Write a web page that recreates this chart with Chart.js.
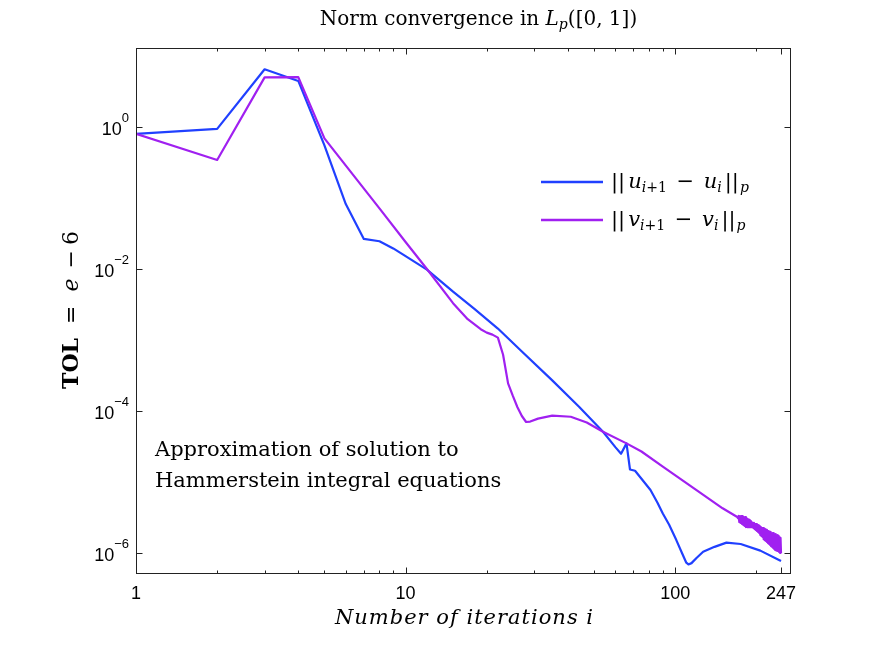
<!DOCTYPE html>
<html>
<head>
<meta charset="utf-8">
<script src="https://cdn.jsdelivr.net/npm/chart.js@4.4.1/dist/chart.umd.min.js"></script>
<style>
  html, body { margin: 0; padding: 0; background: #fff; }
  canvas { display: block; }
</style>
</head>
<body>
<canvas id="normChart" width="872" height="647"></canvas>
<script>
// ||u_{i+1} - u_i||_p (iteration, norm)
const uIter = [1, 2, 3, 4, 5, 6, 7, 8, 9, 10, 12, 15, 18, 22, 27, 35, 44, 54, 60, 63, 66, 68, 71, 75, 81, 86, 90, 95,
  101, 106, 110, 112, 115, 120, 127, 140, 155, 175, 207, 247];
const uNorm = [0.80, 0.94, 6.5, 4.45, 0.55, 0.082, 0.0265, 0.0246, 0.0195, 0.0152, 0.0098, 4.8e-3, 2.75e-3, 1.45e-3,
  6.9e-4, 2.7e-4, 1.15e-4, 5.1e-5, 3.1e-5, 2.5e-5, 3.5e-5, 1.5e-5, 1.44e-5, 1.11e-5, 7.7e-6, 5.1e-6, 3.6e-6, 2.5e-6,
  1.52e-6, 1.0e-6, 7.3e-7, 6.9e-7, 7.2e-7, 8.5e-7, 1.04e-6, 1.22e-6, 1.40e-6, 1.34e-6, 1.08e-6, 7.7e-7];

// ||v_{i+1} - v_i||_p (from ~170 on it jumps up and down every iteration)
const vIter = [1, 2, 3, 4, 5, 8, 10, 12, 15, 17, 19, 20, 21, 22, 23, 24, 25, 26, 27, 28, 29, 31, 35, 41, 47, 54, 66,
  75, 90, 120, 150, 170,
  171, 172, 173, 174, 175, 176, 177, 178, 179, 180, 181, 182, 183, 184, 185, 186, 187, 188, 189, 190,
  191, 192, 193, 194, 195, 196, 197, 198, 199, 200, 201, 202, 203, 204, 205, 206, 207, 208, 209, 210,
  211, 212, 213, 214, 215, 216, 217, 218, 219, 220, 221, 222, 223, 224, 225, 226, 227, 228, 229, 230,
  231, 232, 233, 234, 235, 236, 237, 238, 239, 240, 241, 242, 243, 244, 245, 246, 247];
const vNorm = [0.80, 0.343, 5.0, 5.05, 0.69, 0.0715, 0.024, 0.0100, 3.3e-3, 1.96e-3, 1.42e-3, 1.27e-3, 1.19e-3,
  1.08e-3, 6.2e-4, 2.45e-4, 1.63e-4, 1.13e-4, 8.5e-5, 7.0e-5, 7.1e-5, 7.8e-5, 8.6e-5, 8.3e-5, 6.9e-5, 5.1e-5, 3.5e-5,
  2.69e-5, 1.65e-5, 7.7e-6, 4.26e-6, 3.21e-6,
  3.11e-6, 3.32e-6, 2.73e-6, 3.32e-6, 2.65e-6, 3.32e-6, 2.56e-6, 3.32e-6, 2.48e-6, 3.21e-6,
  2.40e-6, 3.21e-6, 2.32e-6, 3.11e-6, 2.32e-6, 3.01e-6, 2.32e-6, 2.92e-6, 2.32e-6, 2.82e-6,
  2.32e-6, 2.73e-6, 2.32e-6, 2.65e-6, 2.25e-6, 2.65e-6, 2.18e-6, 2.56e-6, 2.11e-6, 2.56e-6,
  2.04e-6, 2.48e-6, 1.98e-6, 2.48e-6, 1.91e-6, 2.40e-6, 1.79e-6, 2.32e-6, 1.74e-6, 2.25e-6,
  1.68e-6, 2.25e-6, 1.57e-6, 2.18e-6, 1.52e-6, 2.11e-6, 1.48e-6, 2.11e-6, 1.43e-6, 2.04e-6,
  1.38e-6, 2.04e-6, 1.34e-6, 1.98e-6, 1.30e-6, 1.98e-6, 1.25e-6, 1.91e-6, 1.22e-6, 1.91e-6,
  1.18e-6, 1.91e-6, 1.14e-6, 1.85e-6, 1.10e-6, 1.85e-6, 1.10e-6, 1.79e-6, 1.07e-6, 1.79e-6,
  1.07e-6, 1.74e-6, 1.03e-6, 1.68e-6, 1.00e-6, 1.63e-6, 1.00e-6];

const xTickLabels = [1, 10, 100, 247];
const xMinorTicks = [2, 3, 4, 5, 6, 7, 8, 9, 20, 30, 40, 50, 60, 70, 80, 90, 200];
const yTickValues = [1e-6, 1e-4, 1e-2, 1];

const BLUE = '#2040ff';
const PURPLE = '#a020f0';
const SERIF = '"DejaVu Serif", "Liberation Serif", serif';
const SANS = '"Liberation Sans", Arial, sans-serif';

const rm = '20px ' + SERIF;
const rm21 = '21px ' + SERIF;
const it = 'italic 20px ' + SERIF;
const it21 = 'italic 21px ' + SERIF;
const sub = 'italic 14px ' + SERIF;
const subRm = '14px ' + SERIF;

const toPoints = (xs, ys) => xs.map((x, i) => ({ x: x, y: ys[i] }));

// draws a run of differently styled pieces on one baseline; gap = extra space after a piece
function drawRich(ctx, parts, x, y, align) {
  let w = 0;
  parts.forEach(p => { ctx.font = p.font; w += ctx.measureText(p.t).width + (p.gap || 0); });
  let cx = align === 'center' ? x - w / 2 : (align === 'right' ? x - w : x);
  ctx.textAlign = 'left';
  ctx.textBaseline = 'alphabetic';
  parts.forEach(p => {
    ctx.font = p.font;
    ctx.fillText(p.t, cx, y + (p.dy || 0));
    cx += ctx.measureText(p.t).width + (p.gap || 0);
  });
}

const framePlugin = {
  id: 'frame',
  afterDraw(chart) {
    const ctx = chart.ctx;
    const a = chart.chartArea;
    const xs = chart.scales.x;
    const ys = chart.scales.y;
    ctx.save();

    // box + inward ticks
    ctx.strokeStyle = '#222';
    ctx.lineWidth = 1;
    ctx.strokeRect(a.left + 0.5, a.top + 0.5, a.right - a.left - 1, a.bottom - a.top - 1);
    ctx.beginPath();
    const xTick = (v, len) => {
      const px = Math.round(xs.getPixelForValue(v)) + 0.5;
      ctx.moveTo(px, a.bottom); ctx.lineTo(px, a.bottom - len);
      ctx.moveTo(px, a.top); ctx.lineTo(px, a.top + len);
    };
    xTickLabels.forEach(v => xTick(v, 6.5));
    xMinorTicks.forEach(v => xTick(v, 3.5));
    yTickValues.forEach(v => {
      const py = Math.round(ys.getPixelForValue(v)) + 0.5;
      ctx.moveTo(a.left, py); ctx.lineTo(a.left + 6.5, py);
      ctx.moveTo(a.right, py); ctx.lineTo(a.right - 6.5, py);
    });
    ctx.stroke();

    // y tick labels 10^n
    ctx.fillStyle = '#000';
    yTickValues.forEach(v => {
      const py = ys.getPixelForValue(v);
      const ex = String(Math.round(Math.log10(v))).replace('-', '\u2212');
      ctx.font = '13px ' + SANS;
      const ew = ctx.measureText(ex).width;
      ctx.textAlign = 'left';
      ctx.textBaseline = 'alphabetic';
      ctx.fillText(ex, a.left - 7 - ew, py - 5);
      ctx.font = '18px ' + SANS;
      ctx.textAlign = 'right';
      ctx.fillText('10', a.left - 7 - ew, py + 8);
    });

    // title
    drawRich(ctx, [
      { t: 'Norm convergence in ', font: rm },
      { t: 'L', font: it },
      { t: 'p', font: sub, dy: 4 },
      { t: '([0, 1])', font: rm }
    ], 478.5, 25, 'center');

    // x axis title
    ctx.letterSpacing = '1px';
    drawRich(ctx, [{ t: 'Number of iterations i', font: it21 }], 464.5, 624, 'center');
    ctx.letterSpacing = '0px';

    // y axis title
    ctx.save();
    ctx.translate(78, 310);
    ctx.rotate(-Math.PI / 2);
    drawRich(ctx, [
      { t: 'TOL', font: 'bold 22px ' + SERIF, gap: 14 },
      { t: '=', font: '22px ' + SERIF, gap: 14 },
      { t: 'e', font: 'italic 22px ' + SERIF, gap: 10 },
      { t: '\u2212', font: '22px ' + SERIF, gap: 5 },
      { t: '6', font: '22px ' + SERIF }
    ], 0, 0, 'center');
    ctx.restore();

    // annotation
    drawRich(ctx, [{ t: 'Approximation of solution to', font: rm21 }], 155, 456, 'left');
    drawRich(ctx, [{ t: 'Hammerstein integral equations', font: rm21 }], 155, 487, 'left');

    // legend
    const legendRows = [
      { color: BLUE, y: 182, s: 'u' },
      { color: PURPLE, y: 220, s: 'v' }
    ];
    legendRows.forEach(r => {
      ctx.strokeStyle = r.color;
      ctx.lineWidth = 2.5;
      ctx.beginPath();
      ctx.moveTo(541, r.y);
      ctx.lineTo(603, r.y);
      ctx.stroke();
      drawRich(ctx, [
        { t: '||', font: rm21, gap: 3 },
        { t: r.s, font: it21 },
        { t: 'i', font: sub, dy: 4 },
        { t: '+1', font: subRm, dy: 4, gap: 3 },
        { t: ' \u2212 ', font: rm21, gap: 3 },
        { t: r.s, font: it21 },
        { t: 'i', font: sub, dy: 4, gap: 3 },
        { t: '||', font: rm21, gap: 1 },
        { t: 'p', font: sub, dy: 4 }
      ], 611, r.y + 6, 'left');
    });

    ctx.restore();
  }
};

const ctx = document.getElementById('normChart').getContext('2d');

new Chart(ctx, {
  type: 'line',
  data: {
    datasets: [{
      label: '||u_{i+1} - u_i||_p',
      data: toPoints(uIter, uNorm),
      borderColor: BLUE,
      borderWidth: 2.2,
      borderJoinStyle: 'round',
      pointRadius: 0,
      tension: 0,
      order: 1
    }, {
      label: '||v_{i+1} - v_i||_p',
      data: toPoints(vIter, vNorm),
      borderColor: PURPLE,
      borderWidth: 2.2,
      borderJoinStyle: 'round',
      pointRadius: 0,
      tension: 0,
      order: 0
    }]
  },
  options: {
    responsive: false,
    animation: false,
    layout: { padding: { top: 48, right: 81, left: 0, bottom: 0 } },
    plugins: {
      legend: { display: false },
      tooltip: { enabled: false }
    },
    scales: {
      x: {
        type: 'logarithmic',
        min: 1,
        max: 269,
        afterBuildTicks: s => { s.ticks = xTickLabels.map(v => ({ value: v })); },
        afterFit: s => { s.height = 73; },
        grid: { display: false, drawTicks: false },
        border: { display: false },
        ticks: {
          color: '#000',
          font: { family: SANS, size: 18 },
          padding: 9,
          maxRotation: 0,
          autoSkip: false,
          callback: v => String(v)
        }
      },
      y: {
        type: 'logarithmic',
        min: 5.06e-7,
        max: 12.96,
        afterBuildTicks: s => { s.ticks = yTickValues.map(v => ({ value: v })); },
        afterFit: s => { s.width = 136; },
        grid: { display: false, drawTicks: false },
        border: { display: false },
        ticks: { display: false }
      }
    }
  },
  plugins: [framePlugin]
});
</script>
</body>
</html>
